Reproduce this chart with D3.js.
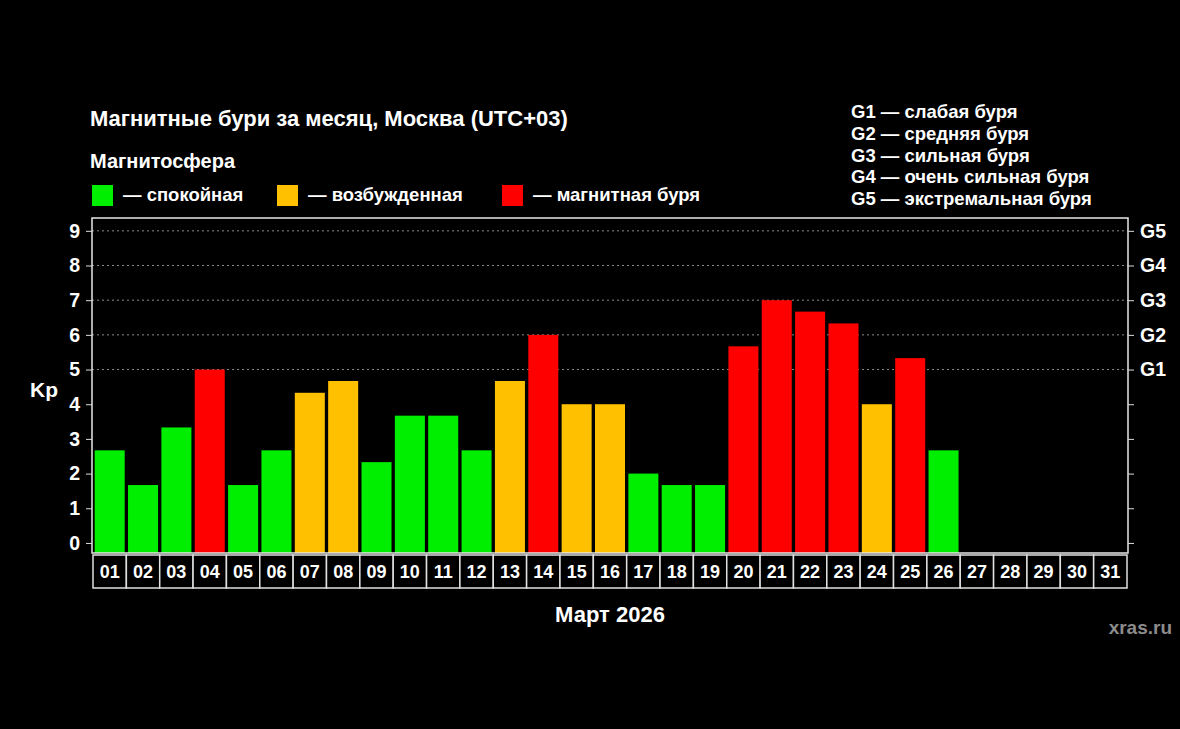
<!DOCTYPE html>
<html><head><meta charset="utf-8">
<script src="https://cdn.jsdelivr.net/npm/d3@7"></script>
<style>
html,body{margin:0;padding:0;background:#000;}
svg{display:block;}
text{font-family:"Liberation Sans",Arial,sans-serif;font-weight:bold;fill:#fff;}
</style></head><body>
<svg id="c" width="1180" height="729"></svg>
<script>
const days = ["01","02","03","04","05","06","07","08","09","10","11","12","13","14","15","16","17","18","19","20","21","22","23","24","25","26","27","28","29","30","31"];
const kp = [2.67,1.67,3.33,5,1.67,2.67,4.33,4.67,2.33,3.67,3.67,2.67,4.67,6,4,4,2,1.67,1.67,5.67,7,6.67,6.33,4,5.33,2.67,null,null,null,null,null];
const levels = ["quiet","quiet","quiet","storm","quiet","quiet","active","active","quiet","quiet","quiet","quiet","active","storm","active","active","quiet","quiet","quiet","storm","storm","storm","storm","active","storm","quiet",null,null,null,null,null];
const levelColors = {quiet:"#00ee00", active:"#ffc000", storm:"#ff0000"};
const legendItems = [["quiet","— спокойная"],["active","— возбужденная"],["storm","— магнитная буря"]];
const leftTicks = [0,1,2,3,4,5,6,7,8,9];
const gTicks = [[5,"G1"],[6,"G2"],[7,"G3"],[8,"G4"],[9,"G5"]];
const gLegend = ["G1 — слабая буря","G2 — средняя буря","G3 — сильная буря","G4 — очень сильная буря","G5 — экстремальная буря"];
const title = "Магнитные бури за месяц, Москва (UTC+03)";
const subtitle = "Магнитосфера";
const xTitle = "Март 2026";
const credit = "xras.ru";

const svg = d3.select("#c");
svg.append("rect").attr("width",1180).attr("height",729).attr("fill","#000");

const L=92, R=1128, T=218, B=553;
const x = d3.scaleBand().domain(days).range([L+1,R-1]).paddingInner(0.1).paddingOuter(0.05);
const xc = d3.scaleBand().domain(days).range([L+1,R-1]);
const y = d3.scaleLinear().domain([-0.29,9.37]).range([B,T]);

// grid lines
svg.append("g").selectAll("line").data(gTicks).join("line")
  .attr("x1",L).attr("x2",R).attr("y1",d=>y(d[0])).attr("y2",d=>y(d[0]))
  .attr("stroke","#8a8a8a").attr("stroke-width",1).attr("stroke-dasharray","2,3");

// bars
svg.append("g").selectAll("rect").data(days.map((d,i)=>({d,v:kp[i],l:levels[i]})).filter(o=>o.v!=null)).join("rect")
  .attr("x",o=>x(o.d)).attr("width",x.bandwidth())
  .attr("y",o=>y(o.v)).attr("height",o=>B-y(o.v))
  .attr("fill",o=>levelColors[o.l]);

// frame
svg.append("rect").attr("x",L).attr("y",T).attr("width",R-L).attr("height",B-T)
  .attr("fill","none").attr("stroke","#e8e8e8").attr("stroke-width",1.5);

// left axis
const la = svg.append("g").attr("transform",`translate(${L},0)`)
  .call(d3.axisLeft(y).tickValues(leftTicks).tickSize(6).tickPadding(6).tickFormat(d3.format("d")));
la.select(".domain").remove();
la.selectAll("line").attr("stroke","#ddd");
la.selectAll("text").attr("font-size",19.5).attr("fill","#fff").style("font-family","Liberation Sans, Arial").style("font-weight","bold");

// right axis
const gMap = new Map(gTicks);
const ra = svg.append("g").attr("transform",`translate(${R},0)`)
  .call(d3.axisRight(y).tickValues(leftTicks).tickSize(6).tickPadding(6).tickFormat(d=>gMap.get(d)||""));
ra.select(".domain").remove();
ra.selectAll("line").attr("stroke","#ddd");
ra.selectAll("text").attr("font-size",19.5).attr("fill","#fff").style("font-family","Liberation Sans, Arial").style("font-weight","bold");

// day label boxes
const lb = svg.append("g");
const boxT=555, boxH=33;
lb.selectAll("rect").data(days).join("rect")
  .attr("x",d=>xc(d)).attr("y",boxT).attr("width",xc.bandwidth()).attr("height",boxH)
  .attr("fill","#000").attr("stroke","#e0e0e0").attr("stroke-width",1.5);
lb.selectAll("text").data(days).join("text")
  .attr("x",d=>xc(d)+xc.bandwidth()/2).attr("y",boxT+boxH/2+6.5)
  .attr("text-anchor","middle").attr("font-size",18).text(d=>d);

// axis titles
svg.append("text").attr("x",44).attr("y",397).attr("text-anchor","middle").attr("font-size",21).text("Kp");
svg.append("text").attr("x",610).attr("y",622).attr("text-anchor","middle").attr("font-size",22).text(xTitle);
svg.append("text").attr("x",1172).attr("y",634).attr("text-anchor","end").attr("font-size",19)
  .style("fill","#8c8c8c").text(credit);

// title
svg.append("text").attr("x",90).attr("y",126).attr("font-size",22).text(title);
svg.append("text").attr("x",90).attr("y",168).attr("font-size",20).text(subtitle);

// legend
const lx=[92,277,502];
const lg = svg.append("g").selectAll("g").data(legendItems).join("g")
  .attr("transform",(d,i)=>`translate(${lx[i]},185)`);
lg.append("rect").attr("width",21).attr("height",21).attr("fill",d=>levelColors[d[0]]);
lg.append("text").attr("x",31).attr("y",16).attr("font-size",18.5).text(d=>d[1]);

// G legend
svg.append("g").selectAll("text").data(gLegend).join("text")
  .attr("x",851).attr("y",(d,i)=>118+i*21.8).attr("font-size",18.5).text(d=>d);
</script>
</body></html>
